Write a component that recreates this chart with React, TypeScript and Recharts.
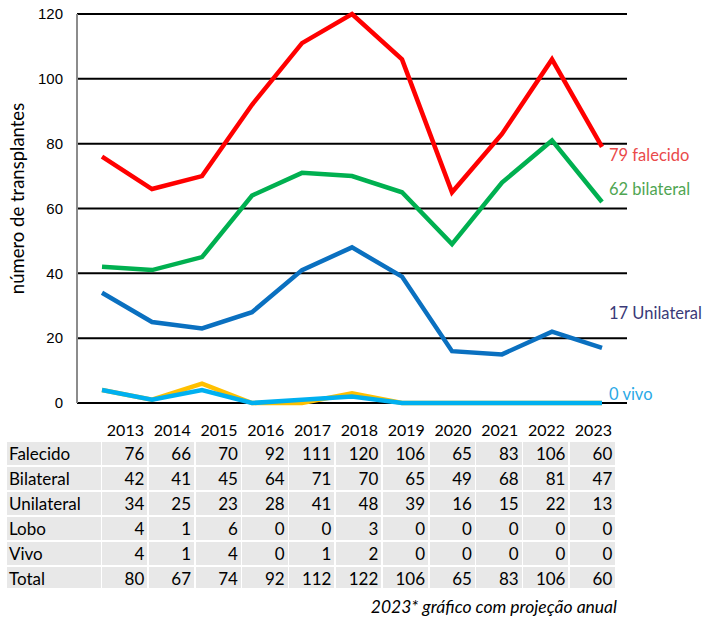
import React from 'react';
import { LineChart, Line, XAxis, YAxis, CartesianGrid, LabelList } from 'recharts';

// chart values (2023 is the annual projection)
const years = ['2013', '2014', '2015', '2016', '2017', '2018', '2019', '2020', '2021', '2022', '2023'];
const falecido = [76, 66, 70, 92, 111, 120, 106, 65, 83, 106, 79];
const bilateral = [42, 41, 45, 64, 71, 70, 65, 49, 68, 81, 62];
const unilateral = [34, 25, 23, 28, 41, 48, 39, 16, 15, 22, 17];
const lobo = [4, 1, 6, 0, 0, 3, 0, 0, 0, 0, 0];
const vivo = [4, 1, 4, 0, 1, 2, 0, 0, 0, 0, 0];
const yTicks = [0, 20, 40, 60, 80, 100, 120];

// table values (real 2023 counts)
const rowLabels = ['Falecido', 'Bilateral', 'Unilateral', 'Lobo', 'Vivo', 'Total'];
const tabFalecido = [76, 66, 70, 92, 111, 120, 106, 65, 83, 106, 60];
const tabBilateral = [42, 41, 45, 64, 71, 70, 65, 49, 68, 81, 47];
const tabUnilateral = [34, 25, 23, 28, 41, 48, 39, 16, 15, 22, 13];
const tabLobo = [4, 1, 6, 0, 0, 3, 0, 0, 0, 0, 0];
const tabVivo = [4, 1, 4, 0, 1, 2, 0, 0, 0, 0, 0];
const tabTotal = [80, 67, 74, 92, 112, 122, 106, 65, 83, 106, 60];
const tableRows = [tabFalecido, tabBilateral, tabUnilateral, tabLobo, tabVivo, tabTotal];

const chartData = years.map((y, i) => ({
  year: y,
  falecido: falecido[i],
  bilateral: bilateral[i],
  unilateral: unilateral[i],
  lobo: lobo[i],
  vivo: vivo[i],
}));

const font = 'Lato, "Open Sans", sans-serif';

const endLabel = (text: string, color: string, dy: number) => (p: any) => {
  if (p.index !== years.length - 1) return null;
  return (
    <text x={p.x + 7} y={p.y + dy} fill={color} fontSize={16.5} fontFamily={font} dominantBaseline="middle">
      {text}
    </text>
  );
};

const colLeft = 102;
const colW = 46.8;

export default function App() {
  return (
    <div style={{ position: 'absolute', left: 0, top: 0, width: 705, height: 620, background: '#fff', fontFamily: font }}>
      <LineChart width={705} height={420} data={chartData} margin={{ top: 14, right: 78, left: 0, bottom: 17 }}>
        <CartesianGrid vertical={false} stroke="#000" strokeWidth={2} />
        <XAxis dataKey="year" hide padding={{ left: 25, right: 25 }} />
        <YAxis
          width={77}
          domain={[0, 120]}
          ticks={yTicks}
          interval={0}
          tickLine={false}
          axisLine={{ stroke: '#8c8c8c', strokeWidth: 2 }}
          tickMargin={8}
          tick={{ fill: '#000', fontSize: 15, fontFamily: '"Liberation Sans Narrow", "Liberation Sans", sans-serif' }}
          label={{ value: 'número de transplantes', angle: -90, position: 'center', dx: -21, dy: -10, fill: '#000', fontSize: 18.5, fontFamily: font }}
        />
        <Line dataKey="lobo" stroke="#ffc000" strokeWidth={4.5} dot={false} isAnimationActive={false} />
        <Line dataKey="vivo" stroke="#00b0f0" strokeWidth={4.5} dot={false} isAnimationActive={false}>
          <LabelList dataKey="vivo" content={endLabel('0 vivo', '#2aa9e6', -7)} />
        </Line>
        <Line dataKey="unilateral" stroke="#0a70c0" strokeWidth={4.5} dot={false} isAnimationActive={false}>
          <LabelList dataKey="unilateral" content={endLabel('17 Unilateral', '#3a3a78', -33)} />
        </Line>
        <Line dataKey="bilateral" stroke="#00b050" strokeWidth={4.5} dot={false} isAnimationActive={false}>
          <LabelList dataKey="bilateral" content={endLabel('62 bilateral', '#4fa552', -11)} />
        </Line>
        <Line dataKey="falecido" stroke="#ff0000" strokeWidth={4.5} dot={false} isAnimationActive={false}>
          <LabelList dataKey="falecido" content={endLabel('79 falecido', '#ea4a4a', 10)} />
        </Line>
      </LineChart>

      {/* table header */}
      {years.map((y, i) => (
        <div
          key={y}
          style={{ position: 'absolute', left: colLeft + i * colW, top: 420, width: colW, height: 20, textAlign: 'center', fontSize: 16, lineHeight: '20px', color: '#000' }}
        >
          {y}
        </div>
      ))}

      {/* table body */}
      {rowLabels.map((label, r) => {
        const top = 442 + r * 25;
        const h = r === rowLabels.length - 1 ? 21 : 23;
        return (
          <React.Fragment key={label}>
            <div
              style={{ position: 'absolute', left: 7, top, width: 94, height: h, background: '#e8e8e8', fontSize: 17, lineHeight: '23px', paddingLeft: 2, boxSizing: 'border-box', overflow: 'hidden', color: '#000' }}
            >
              {label}
            </div>
            {tableRows[r].map((v, i) => (
              <div
                key={i}
                style={{ position: 'absolute', left: colLeft + i * colW, top, width: colW - 1.5, height: h, background: '#e8e8e8', fontSize: 17, lineHeight: '23px', textAlign: 'right', paddingRight: 3, boxSizing: 'border-box', overflow: 'hidden', color: '#000' }}
              >
                {v}
              </div>
            ))}
          </React.Fragment>
        );
      })}

      <div style={{ position: 'absolute', right: 88, top: 597, fontSize: 17.5, fontStyle: 'italic', lineHeight: '20px', color: '#000' }}>
        2023* gráfico com projeção anual
      </div>
    </div>
  );
}
